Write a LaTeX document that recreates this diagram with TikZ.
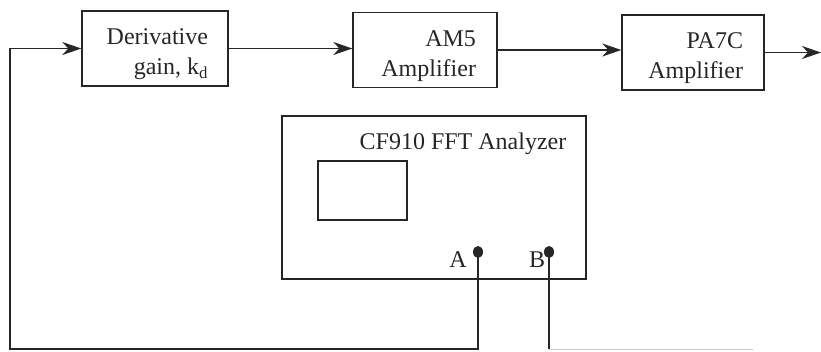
\documentclass[tikz,border=0pt]{standalone}
\usepackage{fontspec}
\setmainfont{Liberation Serif}
\usetikzlibrary{arrows.meta,shapes.geometric}
\definecolor{ink}{HTML}{262626}
\begin{document}
\begin{tikzpicture}[x=1pt,y=-1pt,
  line width=1.4pt, draw=ink,
  every node/.style={text=ink, font=\fontsize{24pt}{30pt}\selectfont},
  blk/.style={draw=ink, line width=1.4pt, minimum height=75pt, inner sep=0pt},
  txt/.style={inner sep=0pt, align=right, anchor=east},
  frame/.style={draw=ink, line width=1.4pt, inner sep=0pt},
  lbl/.style={inner sep=0pt},
  wire/.style={draw=ink, line width=1.4pt},
  arr/.style={wire, -{Stealth[length=19pt,width=13pt,inset=6pt]}},
  jack/.style={ellipse, fill=ink, inner sep=0pt, minimum width=10pt, minimum height=12pt}]
\useasboundingbox (0,0) rectangle (821,352);
% blocks
\node[blk, minimum width=146pt] (d) at (155,48.5) {};
\node[blk, minimum width=144pt] (am) at (425,50) {};
\node[blk, minimum width=142pt] (pa) at (693,52.5) {};
\node[txt] (dt) at ([xshift=-20pt, yshift=-6pt]d.east) {Derivative\\gain, k\textsubscript{d}};
\node[txt] (amt) at ([xshift=-21pt, yshift=-6pt]am.east) {AM5\\Amplifier};
\node[txt] (pat) at ([xshift=-21pt, yshift=-6pt]pa.east) {PA7C\\Amplifier};
% analyzer
\node[frame, minimum width=304pt, minimum height=163pt] (fft) at (434,197.5) {};
\node[lbl] (title) at (463,144) {CF910 FFT Analyzer};
\node[frame, minimum width=89pt, minimum height=59pt] (scr) at (362.5,190.5) {};
\node[jack] (ja) at (478,252) {};
\node[jack] (jb) at (549,252) {};
\node[lbl] (la) at (458,260) {A};
\node[lbl] (lb) at (537,260) {B};
% coordinates
\coordinate (bl) at (10,349);
\coordinate (out) at (821,52.5);
\coordinate (bend) at (549,349);
\coordinate (bend2) at (753,349);
% connectors
\draw[arr] (d.east) -- (d.east -| am.west);
\draw[arr] (am.east) -- (am.east -| pa.west);
\draw[arr] (pa.east) -- (out);
\draw[arr] (ja.center) -- (ja.center |- bl) -- (bl) -- (bl |- d.west) -- (d.west);
\draw[wire] (jb.center) -- (bend);
\draw[wire, draw=ink!25, line width=1pt] (bend) -- (bend2);
\end{tikzpicture}
\end{document}
